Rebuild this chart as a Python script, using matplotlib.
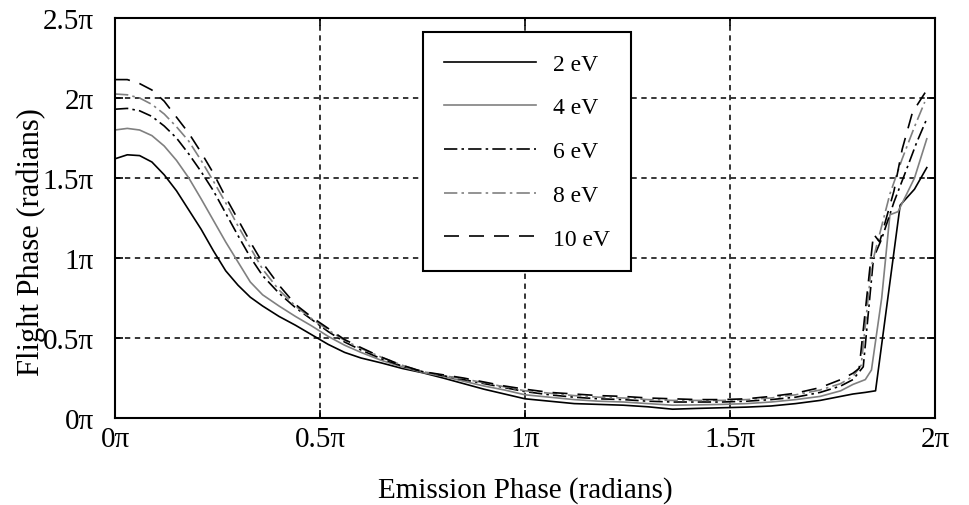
import matplotlib
matplotlib.use("Agg")
import matplotlib.pyplot as plt

# ---- data (units of pi) ----
x_common = [0, 0.03, 0.06, 0.09, 0.12, 0.15, 0.18, 0.21, 0.24, 0.27, 0.30, 0.33, 0.36,
            0.40, 0.44, 0.48, 0.52, 0.56, 0.60, 0.65, 0.70, 0.75, 0.80, 0.85, 0.90, 0.95,
            1.00, 1.06, 1.12, 1.18, 1.24, 1.30, 1.36, 1.42, 1.48, 1.54, 1.60, 1.66, 1.72,
            1.77, 1.80]

y_2ev = [1.62, 1.645, 1.64, 1.60, 1.52, 1.42, 1.30, 1.18, 1.045, 0.92, 0.83, 0.755, 0.70,
         0.635, 0.58, 0.52, 0.46, 0.41, 0.375, 0.344, 0.31, 0.283, 0.25, 0.215, 0.18, 0.15,
         0.12, 0.105, 0.09, 0.085, 0.08, 0.07, 0.055, 0.06, 0.064, 0.068, 0.075, 0.09, 0.11,
         0.135, 0.15]
y_4ev = [1.80, 1.81, 1.80, 1.765, 1.70, 1.61, 1.50, 1.37, 1.235, 1.10, 0.975, 0.85, 0.77,
         0.70, 0.635, 0.575, 0.51, 0.455, 0.41, 0.36, 0.32, 0.285, 0.26, 0.23, 0.20, 0.175,
         0.145, 0.13, 0.115, 0.105, 0.10, 0.09, 0.08, 0.082, 0.085, 0.09, 0.10, 0.115, 0.135,
         0.17, 0.21]
y_6ev = [1.93, 1.935, 1.92, 1.885, 1.825, 1.75, 1.65, 1.54, 1.42, 1.28, 1.14, 1.005, 0.89,
         0.78, 0.69, 0.615, 0.54, 0.475, 0.425, 0.37, 0.325, 0.29, 0.265, 0.24, 0.215, 0.19,
         0.165, 0.145, 0.13, 0.12, 0.115, 0.105, 0.10, 0.10, 0.10, 0.105, 0.115, 0.13, 0.16,
         0.20, 0.24]
y_8ev = [2.025, 2.02, 2.00, 1.96, 1.90, 1.82, 1.73, 1.61, 1.48, 1.345, 1.20, 1.065, 0.93,
         0.80, 0.70, 0.62, 0.55, 0.485, 0.435, 0.38, 0.33, 0.29, 0.265, 0.245, 0.22, 0.195,
         0.17, 0.155, 0.14, 0.13, 0.125, 0.115, 0.11, 0.11, 0.11, 0.115, 0.125, 0.145, 0.175,
         0.215, 0.26]
y_10ev = [2.115, 2.115, 2.09, 2.05, 1.98, 1.88, 1.78, 1.66, 1.53, 1.38, 1.24, 1.10, 0.97,
          0.83, 0.71, 0.63, 0.56, 0.49, 0.44, 0.38, 0.33, 0.29, 0.27, 0.25, 0.225, 0.20,
          0.18, 0.16, 0.15, 0.14, 0.135, 0.125, 0.12, 0.115, 0.115, 0.12, 0.135, 0.155, 0.19,
          0.24, 0.28]

# tails (steep rise near 2pi)
tx_2ev = [1.83, 1.855, 1.915, 1.95, 1.98]
ty_2ev = [0.16, 0.17, 1.33, 1.43, 1.565]
tx_4ev = [1.83, 1.845, 1.87, 1.89, 1.91, 1.95, 1.98]
ty_4ev = [0.24, 0.30, 0.75, 1.27, 1.29, 1.50, 1.745]
tx_6ev = [1.825, 1.85, 1.87, 1.90, 1.93, 1.955, 1.98]
ty_6ev = [0.32, 1.00, 1.12, 1.35, 1.55, 1.72, 1.87]
tx_8ev = [1.82, 1.845, 1.865, 1.89, 1.92, 1.95, 1.975]
ty_8ev = [0.33, 0.95, 1.15, 1.40, 1.62, 1.82, 1.975]
tx_10ev = [1.815, 1.85, 1.865, 1.90, 1.92, 1.945, 1.985]
ty_10ev = [0.31, 1.15, 1.10, 1.42, 1.68, 1.91, 2.07]

labels = ["2 eV", "4 eV", "6 eV", "8 eV", "10 eV"]
x_ticks = [0, 0.5, 1, 1.5, 2]
x_ticklabels = ["0π", "0.5π", "1π", "1.5π", "2π"]
y_ticks = [0, 0.5, 1, 1.5, 2, 2.5]
y_ticklabels = ["0π", "0.5π", "1π", "1.5π", "2π", "2.5π"]

plt.rcParams['font.family'] = ['Liberation Serif', 'DejaVu Serif']

fig = plt.figure(figsize=(9.69, 5.06), dpi=100)
ax = fig.add_axes([115/969, 1-419/506, 820/969, 400/506])

gray = "#808080"
styles = [
    dict(color="black", linestyle="-"),
    dict(color=gray, linestyle="-"),
    dict(color="black", linestyle=(0, (8, 2.5, 1.5, 2.5))),
    dict(color=gray, linestyle=(0, (8, 2.5, 1.5, 2.5))),
    dict(color="black", linestyle=(0, (9, 6))),
]
series = [(y_2ev, tx_2ev, ty_2ev), (y_4ev, tx_4ev, ty_4ev), (y_6ev, tx_6ev, ty_6ev),
          (y_8ev, tx_8ev, ty_8ev), (y_10ev, tx_10ev, ty_10ev)]
for (yc, tx, ty), lab, st in zip(series, labels, styles):
    ax.plot(x_common + tx, yc + ty, label=lab, linewidth=1.2, **st)

ax.set_xlim(0, 2)
ax.set_ylim(0, 2.5)
ax.set_xticks(x_ticks)
ax.set_xticklabels(x_ticklabels)
ax.set_yticks(y_ticks)
ax.set_yticklabels(y_ticklabels)
ax.tick_params(direction="in", length=6, width=1.2, top=True, right=True,
               labelsize=21)
ax.tick_params(axis="y", pad=15)
ax.tick_params(axis="x", pad=6)
ax.grid(True, color="black", linestyle=(0, (3.5, 3)), linewidth=1.1)
for s in ax.spines.values():
    s.set_linewidth(1.5)

ax.set_xlabel("Emission Phase (radians)", fontsize=21, labelpad=17)
ax.set_ylabel("Flight Phase (radians)", fontsize=22)
ax.yaxis.set_label_coords((46-115)/820, (419-242)/400)

leg = ax.legend(loc="upper left", bbox_to_anchor=((423-115)/820, (419-33)/400),
                fontsize=17, handlelength=3.9, labelspacing=0.94, borderpad=0.9,
                handletextpad=0.7, fancybox=False, framealpha=1, edgecolor="black",
                borderaxespad=0)
leg.get_frame().set_linewidth(1.5)

fig.savefig("out.png", dpi=100)
